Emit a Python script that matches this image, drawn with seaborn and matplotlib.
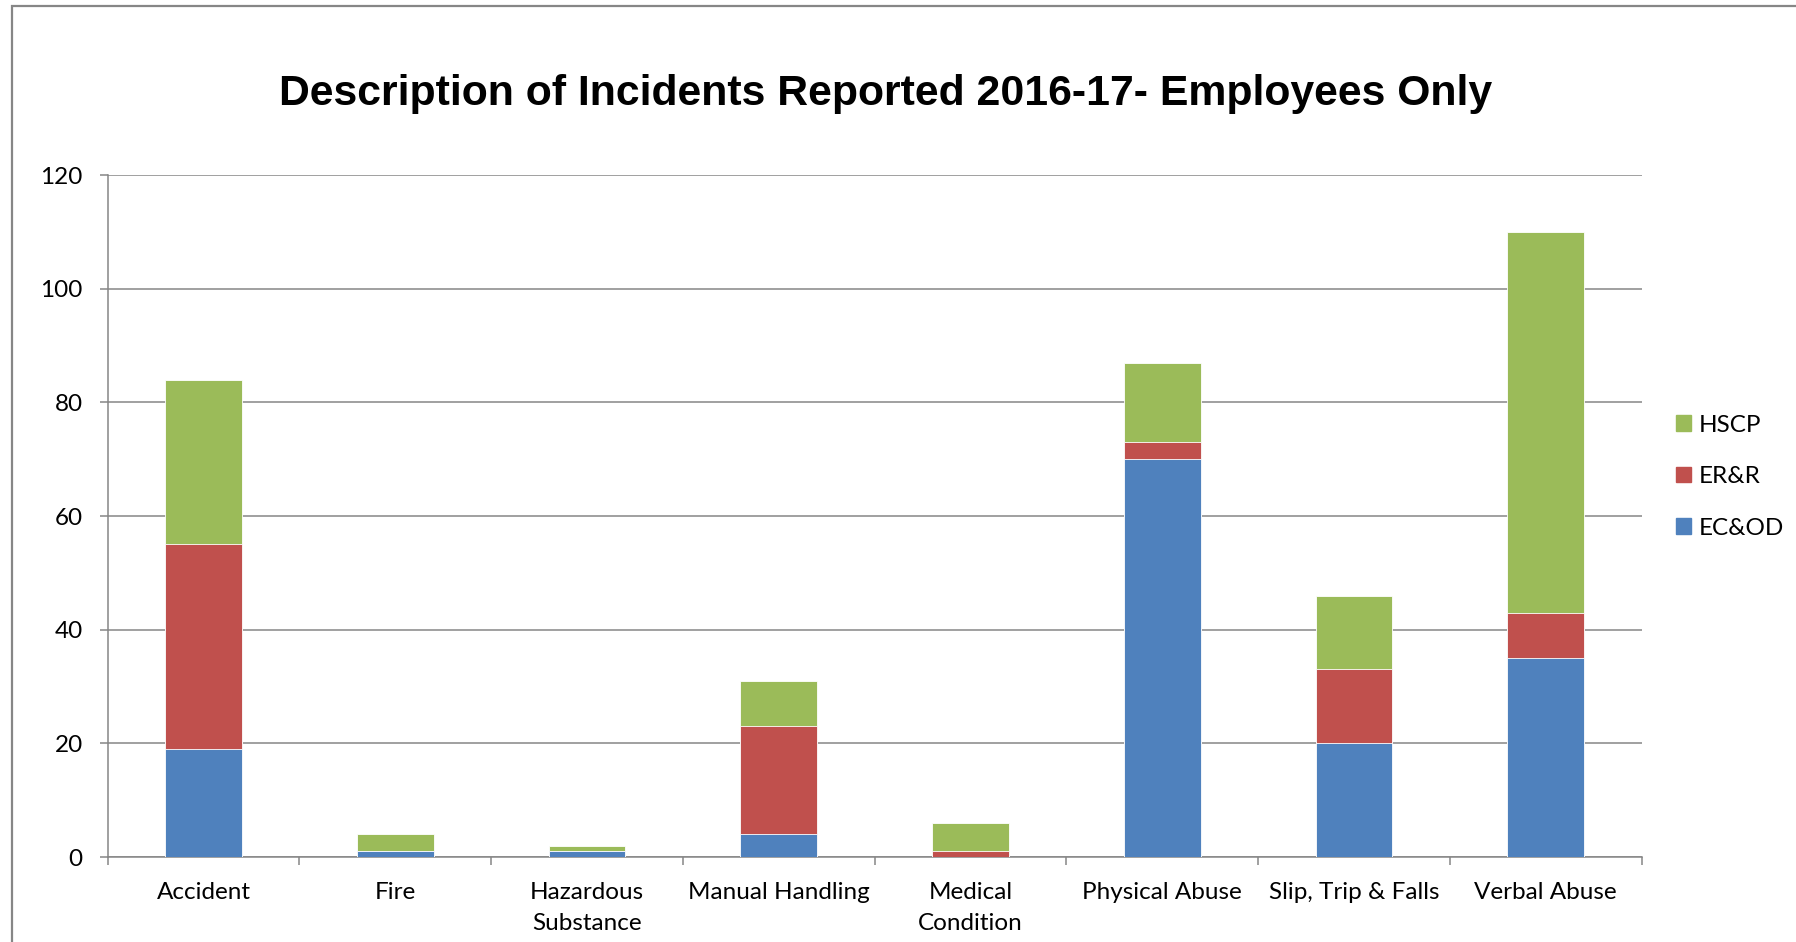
# import libraries
import seaborn as sns
import pandas as pd
import numpy as np
import matplotlib.pyplot as plt
from matplotlib.patches import Patch, Rectangle

# data
categories = ["Accident", "Fire", "Hazardous\nSubstance", "Manual Handling",
              "Medical\nCondition", "Physical Abuse", "Slip, Trip & Falls", "Verbal Abuse"]
ecod = [19, 1, 1, 4, 0, 70, 20, 35]
err = [36, 0, 0, 19, 1, 3, 13, 8]
hscp = [29, 3, 1, 8, 5, 14, 13, 67]

df = pd.DataFrame({"Category": categories, "EC&OD": ecod, "ER&R": err, "HSCP": hscp})
df["lvl1"] = df["EC&OD"]
df["lvl2"] = df["EC&OD"] + df["ER&R"]
df["lvl3"] = df["lvl2"] + df["HSCP"]

blue, red, green = "#4F81BD", "#C0504D", "#9BBB59"
grey = "#868686"

sns.set_style("white")
plt.rcParams["font.family"] = ["Lato", "DejaVu Sans"]
plt.rcParams["text.color"] = "black"
plt.rcParams["xtick.labelcolor"] = "black"
plt.rcParams["ytick.labelcolor"] = "black"

fig = plt.figure(figsize=(17.96, 9.42), dpi=100)
ax = fig.add_axes([0.060, 0.0902, 0.854, 0.724])

# stacked bars: draw cumulative totals, tallest first
for col, c in [("lvl3", green), ("lvl2", red), ("lvl1", blue)]:
    sns.barplot(data=df, x="Category", y=col, color=c, width=0.4, ax=ax,
                saturation=1, edgecolor="white", linewidth=0.6, zorder=3)

ax.set_xlim(-0.5, 7.5)
ax.set_ylim(0, 120)
ax.set_yticks(np.arange(0, 121, 20))
ax.set_xlabel("")
ax.set_ylabel("")
ax.yaxis.grid(True, color=grey, linewidth=1.1, zorder=0)
ax.set_axisbelow(True)

for s in ["top", "right"]:
    ax.spines[s].set_visible(False)
for s in ["left", "bottom"]:
    ax.spines[s].set_color(grey)
    ax.spines[s].set_linewidth(1.1)

ax.tick_params(axis="y", length=6, width=1.1, color=grey, pad=12, labelsize=17.5, left=True)
ax.tick_params(axis="x", which="major", length=0, pad=18, labelsize=17.5)
ax.set_xticks(np.arange(-0.5, 8, 1), minor=True)
ax.tick_params(axis="x", which="minor", length=6, width=1.1, color=grey, bottom=True)
for lbl in ax.get_xticklabels():
    lbl.set_linespacing(1.6)
    lbl.set_verticalalignment("top")

fig.text(0.493, 0.900, "Description of Incidents Reported 2016-17- Employees Only",
         ha="center", va="center", fontsize=30.8, fontweight="bold", color="black",
         family=["Liberation Sans", "DejaVu Sans"])

handles = [Patch(color=green, label="HSCP"), Patch(color=red, label="ER&R"),
           Patch(color=blue, label="EC&OD")]
fig.legend(handles=handles, loc="center left", bbox_to_anchor=(0.921, 0.494),
           frameon=False, fontsize=17.5, handlelength=0.6, handleheight=0.6,
           handletextpad=0.35, labelspacing=1.25)

# outer chart frame
fig.patches.append(Rectangle((11.5 / 1796, -0.05), 1.2, 1.05 - 6.5 / 942,
                             transform=fig.transFigure, fill=False,
                             edgecolor=grey, linewidth=1.6))

fig.savefig("out.png", dpi=100)
